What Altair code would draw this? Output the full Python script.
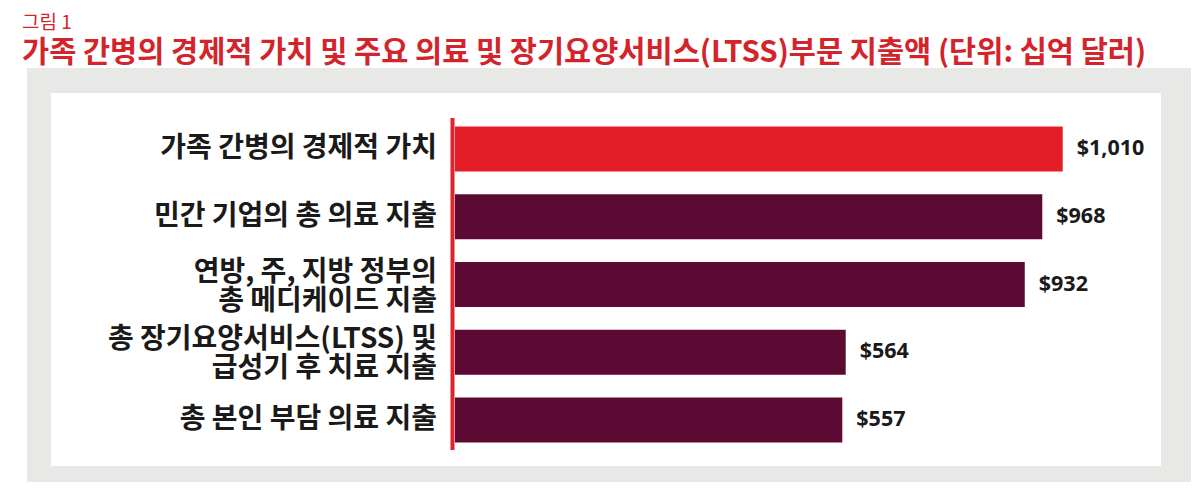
import altair as alt
import pandas as pd

# ---- data ----
fig_label = ["그림 1"]
title_text = ["가족 간병의 경제적 가치 및 주요 의료 및 장기요양서비스(LTSS)부문 지출액 (단위: 십억 달러)"]
categories = [
    "가족 간병의 경제적 가치",
    "민간 기업의 총 의료 지출",
    "연방, 주, 지방 정부의|총 메디케이드 지출",
    "총 장기요양서비스(LTSS) 및|급성기 후 치료 지출",
    "총 본인 부담 의료 지출",
]
values = [1010, 968, 932, 564, 557]
groups = ["family", "other", "other", "other", "other"]

df = pd.DataFrame({"category": categories, "value": values, "group": groups})
one = pd.DataFrame({"k": [0]})

RED = "#e41e26"
DARK = "#5c0a33"
TITLE_RED = "#d3242b"
X_MIN, X_MAX = -239, 1212

y = alt.Y("category:N", sort=categories,
          scale=alt.Scale(paddingInner=0.336, paddingOuter=0.168), axis=None)
x = alt.X("value:Q", scale=alt.Scale(domain=[X_MIN, X_MAX], nice=False, zero=False), axis=None)

gray = alt.Chart(one).mark_rect(color="#e8e8e6").encode(
    x=alt.value(-428), x2=alt.value(760), y=alt.value(-47), y2=alt.value(380))
white = alt.Chart(one).mark_rect(color="#ffffff").encode(
    x=alt.value(-404), x2=alt.value(706), y=alt.value(-22), y2=alt.value(351))

bars = alt.Chart(df).mark_bar().encode(
    y=y, x=x, x2=alt.datum(X_MIN),
    color=alt.Color("group:N", scale=alt.Scale(domain=["family", "other"], range=[RED, DARK]), legend=None),
)

rule = alt.Chart(one).mark_rule(color="#e0242b", strokeWidth=4).encode(
    x=alt.value(-2.5), y=alt.value(3), y2=alt.value(335))

label_style = dict(align="right", baseline="middle", font="Noto Sans CJK KR", fontWeight="bold",
                   fontSize=28, lineBreak="|", lineHeight=29, color="#1a1a1a")

cat_single = alt.Chart(df).transform_filter("indexof(datum.category, '|') < 0").mark_text(
    **label_style
).encode(y=y, x=alt.value(-18), text="category:N")

cat_multi = alt.Chart(df).transform_filter("indexof(datum.category, '|') >= 0").mark_text(
    dy=-12, **label_style
).encode(y=y, x=alt.value(-18), text="category:N")

val_labels = alt.Chart(df).mark_text(
    align="left", baseline="middle", dx=14, font="Open Sans", fontWeight="bold",
    fontSize=21.5, color="#1a1a1a",
).encode(y=y, x=x, text=alt.Text("value:Q", format="$,"))

fig_txt = alt.Chart(pd.DataFrame({"t": fig_label})).mark_text(
    align="left", baseline="middle", font="Noto Sans CJK KR", fontSize=19, color=TITLE_RED,
).encode(text="t:N", x=alt.value(-433), y=alt.value(-92))

title_txt = alt.Chart(pd.DataFrame({"t": title_text})).mark_text(
    align="left", baseline="middle", font="Noto Sans CJK KR", fontWeight="bold",
    fontSize=29.5, color=TITLE_RED,
).encode(text="t:N", x=alt.value(-433), y=alt.value(-62))

chart = alt.layer(gray, white, bars, rule, cat_single, cat_multi, val_labels, fig_txt, title_txt).properties(
    width=706, height=339,
    padding={"left": 447, "top": 107, "right": 30, "bottom": 28},
    autosize=alt.AutoSizeParams(type="none"),
).configure_view(stroke=None).configure(background="white")

chart.save("out.html", embed_options={"renderer": "svg", "actions": False})
